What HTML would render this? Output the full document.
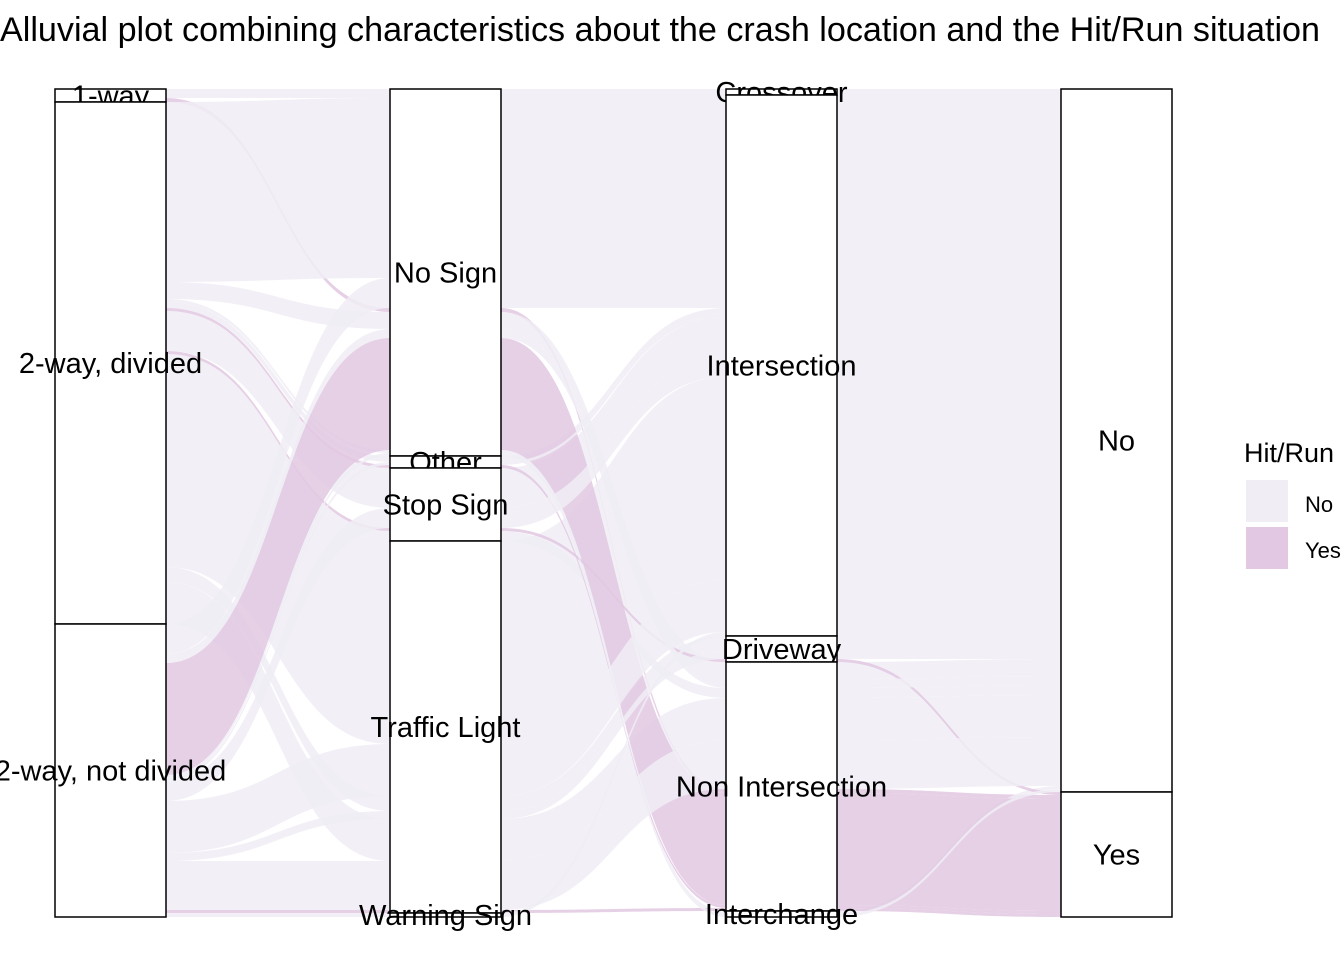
<!DOCTYPE html>
<html><head><meta charset="utf-8"><style>
body{margin:0;background:#fff;font-family:"Liberation Sans",sans-serif}
svg text{font-family:"Liberation Sans",sans-serif}
</style></head><body>
<svg id="chart" width="1344" height="960" viewBox="0 0 1344 960">
<text x="0" y="41" font-size="34" textLength="1320" lengthAdjust="spacingAndGlyphs" fill="#000">Alluvial plot combining characteristics about the crash location and the Hit/Run situation</text>
<g id="flows"></g>
<g id="strata"></g>
<g>
<text x="1244" y="462" font-size="27">Hit/Run</text>
<rect x="1246" y="480" width="42" height="42" fill="#f0edf5"/>
<text x="1305" y="512" font-size="22">No</text>
<rect x="1246" y="527" width="42" height="42" fill="#e2c8e2"/>
<text x="1305" y="558" font-size="22">Yes</text>
</g>
</svg>
<script>
const axisStrata = [
  ["1-way","2-way, divided","2-way, not divided"],
  ["No Sign","Other","Stop Sign","Traffic Light","Warning Sign"],
  ["Crossover","Intersection","Driveway","Non Intersection","Interchange"],
  ["No","Yes"]
];
// each alluvium: [road, sign, location, hitrun]
const alluviaPaths = [
  [0,0,0,0],[0,0,1,0],[0,0,3,1],
  [1,0,1,0],[1,3,1,0],[1,3,2,0],[1,3,3,0],[1,2,1,0],[1,0,3,0],[1,0,4,0],[1,2,3,0],[1,1,1,0],
  [1,2,2,1],[1,1,3,1],
  [2,0,3,1],[2,3,3,1],
  [2,0,1,0],[2,0,3,0],[2,0,4,0],[2,3,1,0],[2,3,2,0],[2,3,3,0],[2,2,1,0],[2,1,1,0],[2,4,1,0]
];
const alluviaCounts = [
  6,3,4,
  180,203,15,42,40,17,3,10,6,
  3,3,
  112,3,
  30,9,3,52,8,49,20,3,4
];
const fillColors = ["#f0edf5","#e2c8e2"];
const X0=[55,390,726,1061], W=111, TOP=89, BOT=917;
const total = alluviaCounts.reduce((a,b)=>a+b,0);
const k = (BOT-TOP)/total;
const NS="http://www.w3.org/2000/svg";
const nA=axisStrata.length;
const pos = alluviaPaths.map(()=>[]);
for(let a=0;a<nA;a++){
  const order=[];
  for(let d=1;d<nA;d++){ if(a+d<nA) order.push(a+d); if(a-d>=0) order.push(a-d); }
  const idx=alluviaPaths.map((p,i)=>i).sort((i,j)=>{
    const p=alluviaPaths[i],q=alluviaPaths[j];
    if(p[a]!==q[a]) return p[a]-q[a];
    for(const o of order){ if(p[o]!==q[o]) return p[o]-q[o]; }
    return i-j;
  });
  let y=TOP;
  idx.forEach(i=>{const h=alluviaCounts[i]*k; pos[i][a]=[y,y+h]; y+=h;});
}
const fg=document.getElementById('flows');
alluviaPaths.forEach((p,i)=>{
  for(let a=0;a<nA-1;a++){
    const x1=X0[a]+W,x2=X0[a+1],xm=(x1+x2)/2;
    const [t1,b1]=pos[i][a],[t2,b2]=pos[i][a+1];
    const path=document.createElementNS(NS,'path');
    path.setAttribute('d',`M${x1},${t1} C${xm},${t1} ${xm},${t2} ${x2},${t2} L${x2},${b2} C${xm},${b2} ${xm},${b1} ${x1},${b1} Z`);
    path.setAttribute('fill',fillColors[p[3]]);
    path.setAttribute('fill-opacity','0.85');
    
    
    fg.appendChild(path);
  }
});
const sg=document.getElementById('strata');
for(let a=0;a<nA;a++){
  let y=TOP;
  axisStrata[a].forEach((s,si)=>{
    let sum=0; alluviaPaths.forEach((p,i)=>{if(p[a]===si) sum+=alluviaCounts[i];});
    const h=sum*k;
    const r=document.createElementNS(NS,'rect');
    r.setAttribute('x',X0[a]);r.setAttribute('y',y);r.setAttribute('width',W);r.setAttribute('height',h);
    r.setAttribute('fill','#fff');r.setAttribute('stroke','#000');r.setAttribute('stroke-width','1.5');
    
    
    sg.appendChild(r);
    const t=document.createElementNS(NS,'text');
    t.setAttribute('x',X0[a]+W/2);t.setAttribute('y',y+h/2+10);
    t.setAttribute('text-anchor','middle');t.setAttribute('font-size','29');
    t.textContent=s;
    
    
    sg.appendChild(t);
    y+=h;
  });
}
</script>
</body></html>
